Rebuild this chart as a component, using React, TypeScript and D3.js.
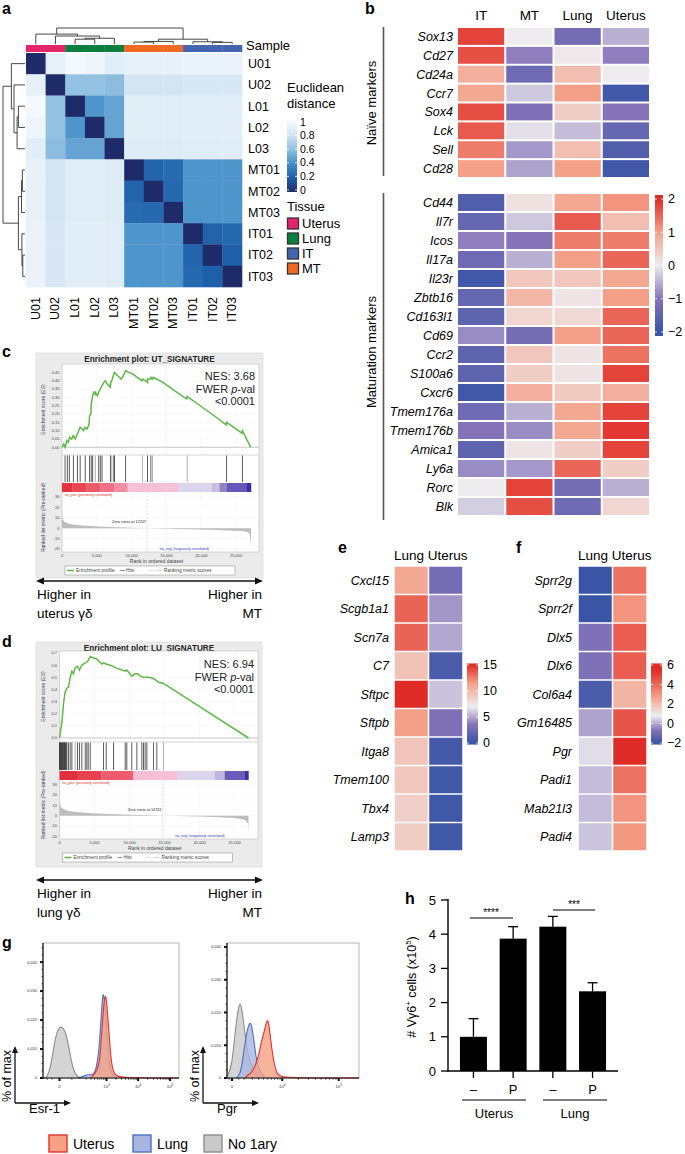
import React from 'react';
import * as d3 from 'd3';

const FONT = "'Liberation Sans', Arial, Helvetica, sans-serif";

// ---------------- Panel a data ----------------
const samples = ['U01', 'U02', 'L01', 'L02', 'L03', 'MT01', 'MT02', 'MT03', 'IT01', 'IT02', 'IT03'];
const sampleTissue = ['Uterus', 'Uterus', 'Lung', 'Lung', 'Lung', 'MT', 'MT', 'MT', 'IT', 'IT', 'IT'];
const tissueNames = ['Uterus', 'Lung', 'IT', 'MT'];
const tissueColors = ['#e5246b', '#0b7f40', '#4565b0', '#f16a24'];
const distance = [
  [0, 0.9, 0.98, 0.95, 0.88, 0.91, 0.91, 0.91, 0.93, 0.93, 0.93],
  [0.9, 0, 0.6, 0.6, 0.58, 0.8, 0.8, 0.8, 0.82, 0.82, 0.82],
  [0.98, 0.6, 0, 0.42, 0.48, 0.87, 0.87, 0.87, 0.88, 0.88, 0.88],
  [0.95, 0.6, 0.42, 0, 0.48, 0.87, 0.87, 0.87, 0.88, 0.88, 0.88],
  [0.88, 0.58, 0.48, 0.48, 0, 0.86, 0.86, 0.86, 0.87, 0.87, 0.87],
  [0.91, 0.8, 0.87, 0.87, 0.86, 0, 0.22, 0.25, 0.42, 0.42, 0.42],
  [0.91, 0.8, 0.87, 0.87, 0.86, 0.22, 0, 0.24, 0.42, 0.42, 0.42],
  [0.91, 0.8, 0.87, 0.87, 0.86, 0.25, 0.24, 0, 0.42, 0.42, 0.42],
  [0.93, 0.82, 0.88, 0.88, 0.87, 0.42, 0.42, 0.42, 0, 0.22, 0.24],
  [0.93, 0.82, 0.88, 0.88, 0.87, 0.42, 0.42, 0.42, 0.22, 0, 0.2],
  [0.93, 0.82, 0.88, 0.88, 0.87, 0.42, 0.42, 0.42, 0.24, 0.2, 0],
];
// hclust-style merges: [a, b, height]; negative = earlier merge -(k+1)
const dendroMerges = [
  [2, 3, 0.3],
  [-1, 4, 0.36],
  [1, -2, 0.5],
  [0, -3, 0.62],
  [5, 6, 0.12],
  [-5, 7, 0.16],
  [9, 10, 0.1],
  [8, -7, 0.14],
  [-6, -8, 0.3],
  [-4, -9, 1.0],
];
const distStops = [0, 0.2, 0.4, 0.6, 0.8, 1];
const distColors = ['#1f2a68', '#1d5fa8', '#4690c8', '#94c2e2', '#d3e5f2', '#f7fbff'];
const distTicks = [0, 0.2, 0.4, 0.6, 0.8, 1];

// ---------------- Panel b data ----------------
const bColumns = ['IT', 'MT', 'Lung', 'Uterus'];
const naiveGenes = ['Sox13', 'Cd27', 'Cd24a', 'Ccr7', 'Sox4', 'Lck', 'Sell', 'Cd28'];
const naiveValues = [
  [1.8, 0, -1.2, -0.5],
  [1.7, -0.9, 0.05, -0.9],
  [0.8, -1.3, 0.6, 0],
  [0.9, -0.3, 1.0, -1.9],
  [1.7, -1.1, 0.4, -1.0],
  [1.6, -0.1, -0.4, -1.4],
  [1.3, -0.7, 0.6, -1.7],
  [1.0, -0.6, 1.0, -1.9],
];
const maturationGenes = ['Cd44', 'Il7r', 'Icos', 'Il17a', 'Il23r', 'Zbtb16', 'Cd163l1', 'Cd69', 'Ccr2', 'S100a6', 'Cxcr6', 'Tmem176a', 'Tmem176b', 'Amica1', 'Ly6a', 'Rorc', 'Blk'];
const maturationValues = [
  [-1.7, 0.15, 0.9, 1.1],
  [-1.4, -0.3, 1.6, 0.6],
  [-0.9, -1.0, 1.3, 1.3],
  [-1.3, -0.5, 1.0, 1.5],
  [-1.9, 0.5, 0.5, 0.9],
  [-1.4, 0.7, 0.1, 1.0],
  [-1.5, 0.3, 0.25, 1.5],
  [-0.8, -1.2, 1.0, 1.5],
  [-1.5, 0.5, 0.1, 1.4],
  [-1.5, 0.4, 0.1, 1.8],
  [-1.9, 0.8, 0.45, 0.8],
  [-1.3, -0.5, 0.9, 1.8],
  [-1.0, -0.8, 0.9, 1.9],
  [-1.5, 0.1, 0.4, 1.8],
  [-0.8, -0.7, 1.5, 0.4],
  [0, 1.8, -1.2, -0.5],
  [-0.25, 1.7, -1.3, 0.3],
];
const divColors = ['#3955a6', '#8473b8', '#eeecef', '#f4a088', '#e02c27'];
const bStops = [-2, -1, 0, 1, 2];
const bTicks = [2, 1, 0, -1, -2];

// ---------------- Panels c, d data ----------------
const esC = [[0, 0], [250, 0.02], [450, 0.0], [700, 0.04], [900, 0.03], [1100, 0.06], [1400, 0.05], [1600, 0.07], [1900, 0.05], [2200, 0.08], [2400, 0.1], [2600, 0.12], [2900, 0.11], [3100, 0.1], [3300, 0.12], [3600, 0.11], [3900, 0.14], [3960, 0.19], [4150, 0.2], [4200, 0.26], [4400, 0.31], [4600, 0.33], [4780, 0.32], [4800, 0.33], [5100, 0.31], [5265, 0.33], [5500, 0.35], [5750, 0.37], [6000, 0.39], [6200, 0.40], [6500, 0.38], [6950, 0.36], [7000, 0.39], [7150, 0.40], [7440, 0.44], [7540, 0.45], [8000, 0.43], [8500, 0.41], [8700, 0.42], [9135, 0.46], [9600, 0.45], [10200, 0.44], [10800, 0.42], [11500, 0.40], [11550, 0.41], [12000, 0.40], [12280, 0.39], [12300, 0.41], [12760, 0.41], [12800, 0.42], [13000, 0.41], [13100, 0.42], [13600, 0.41], [14500, 0.39], [16000, 0.345], [17900, 0.29], [17980, 0.305], [19500, 0.26], [21500, 0.2], [23600, 0.135], [23640, 0.15], [25850, 0.085], [25910, 0.1], [27100, 0.0]];
const hitsC = [[435, 1], [770, 1], [1060, 1], [1640, 1], [2220, 1], [2610, 1], [3335, 1], [3960, 1], [4200, 1], [4400, 1], [4785, 0], [5265, 1], [5510, 1], [5750, 1], [6960, 1], [7150, 0], [7440, 1], [7540, 1], [9135, 1], [11550, 0], [12280, 1], [12760, 1], [13000, 0], [17980, 0], [23635, 1], [25910, 1]];
const barC = [[0, 1500, '#e5303f'], [1500, 3500, '#e94553'], [3500, 5510, '#ec5a68'], [5510, 7500, '#f07088'], [7500, 9425, '#f38da2'], [9425, 16675, '#f6c0d6'], [16675, 21460, '#dcd4ec'], [21460, 22620, '#c9bfe0'], [22620, 23635, '#8d84c8'], [23635, 26535, '#6658b8'], [26535, 27150, '#3a2fa8']];
const metricC = [[0, 14], [40, 11], [100, 9], [200, 7.5], [400, 6], [700, 5], [1000, 4.3], [1500, 3.6], [2500, 2.8], [4000, 2.1], [6000, 1.5], [8000, 1], [10000, 0.5], [12207, 0], [15000, -0.5], [18000, -1], [21000, -1.5], [24000, -2.2], [25500, -2.8], [26500, -3.5], [26900, -5], [27050, -10], [27150, -20]];

const esD = [[0, 0], [340, 0.13], [580, 0.29], [815, 0.38], [1050, 0.41], [1290, 0.42], [1530, 0.5], [1770, 0.55], [2000, 0.53], [2240, 0.58], [2570, 0.59], [2860, 0.56], [3190, 0.6], [3670, 0.62], [4000, 0.63], [4390, 0.67], [5340, 0.65], [6050, 0.61], [6290, 0.62], [6670, 0.61], [7720, 0.59], [7960, 0.58], [9390, 0.55], [9620, 0.56], [10330, 0.51], [10810, 0.53], [11150, 0.53], [11530, 0.51], [12000, 0.5], [12240, 0.5], [12720, 0.5], [13430, 0.49], [13900, 0.47], [14140, 0.46], [14860, 0.45], [27000, 0]];
const hitsD = [[0, 1], [60, 1], [130, 1], [200, 1], [270, 1], [340, 1], [410, 1], [480, 1], [560, 1], [640, 1], [720, 1], [800, 1], [880, 1], [960, 1], [1050, 1], [1290, 1], [1530, 1], [1770, 1], [2240, 0], [2570, 1], [2860, 1], [3190, 1], [3670, 1], [3900, 1], [4100, 1], [4390, 1], [6290, 1], [6670, 1], [7720, 1], [9390, 1], [9620, 1], [10330, 1], [11050, 1], [11760, 1], [12000, 1], [12240, 1], [12480, 1], [13430, 1], [13900, 1], [14860, 0]];
const barD = [[0, 2500, '#e3303e'], [2500, 6000, '#e84250'], [6000, 10500, '#ec5c6c'], [10500, 16800, '#f6bfd6'], [16800, 22200, '#dcd4ec'], [22200, 23600, '#c0b5dc'], [23600, 26500, '#6a5db8'], [26500, 27000, '#3a30a8']];
const metricD = [[0, 15], [50, 12], [150, 9], [400, 7], [1000, 5], [2000, 3.8], [4000, 2.5], [7000, 1.5], [10000, 0.8], [13000, 0.3], [14741, 0], [17000, -0.4], [20000, -0.9], [23000, -1.6], [25000, -2.4], [26500, -4], [26950, -8], [27000, -20]];

// ---------------- Panels e, f data ----------------
const efColumns = ['Lung', 'Uterus'];
const eGenes = ['Cxcl15', 'Scgb1a1', 'Scn7a', 'C7', 'Sftpc', 'Sftpb', 'Itga8', 'Tmem100', 'Tbx4', 'Lamp3'];
const eValues = [[11, 2.8], [13.3, 4.5], [13.3, 5], [9.5, 0.8], [15, 5.8], [11.5, 3.3], [9.3, 0.5], [9.2, 0.3], [8.7, 0.3], [8.8, 0.3]];
const eStops = [0, 3.5, 7, 11.5, 15];
const eTicks = [15, 10, 5, 0];
const fGenes = ['Sprr2g', 'Sprr2f', 'Dlx5', 'Dlx6', 'Col6a4', 'Gm16485', 'Pgr', 'Padi1', 'Mab21l3', 'Padi4'];
const fValues = [[-2, 3.8], [-2, 3.0], [-0.8, 4.3], [-0.8, 4.3], [-1.7, 2.2], [-0.1, 4.5], [0.6, 5.5], [0.2, 3.8], [0.2, 3.0], [0.3, 2.9]];
const fStops = [-2, -0.7, 0.8, 2.7, 5.5];
const fTicks = [6, 4, 2, 0, -2];

// ---------------- Panel g data ----------------
const esrNo1 = [[-80, 0], [-60, 0], [-51, 0.0005], [-34, 0.003], [-21, 0.009], [-10, 0.015], [-1, 0.0175], [7, 0.0177], [17, 0.0165], [30, 0.012], [46, 0.006], [65, 0.002], [97, 0.0003], [130, 0]];
const esrLung = [[100, 0], [186, 0.0008], [240, 0.0012], [330, 0.001], [434, 0.002], [546, 0.008], [620, 0.016], [722, 0.027], [776, 0.0293], [836, 0.028], [970, 0.02], [1120, 0.009], [1300, 0.003], [1640, 0.0005], [2030, 0]];
const esrUterus = [[300, 0], [546, 0.003], [620, 0.008], [722, 0.018], [836, 0.027], [904, 0.0283], [970, 0.028], [1120, 0.02], [1300, 0.01], [1480, 0.004], [1800, 0.001], [2710, 0], [190000, 0]];
const pgrNo1 = [[-360, 0], [-283, 0.001], [0, 0.004], [209, 0.014], [444, 0.021], [615, 0.0232], [800, 0.021], [1109, 0.013], [1454, 0.007], [1841, 0.004], [2273, 0.002], [2940, 0.0005], [3710, 0]];
const pgrLung = [[300, 0], [600, 0.001], [800, 0.004], [1109, 0.011], [1454, 0.016], [1841, 0.0177], [2273, 0.011], [2600, 0.006], [2940, 0.003], [3710, 0.001], [4380, 0]];
const pgrUterus = [[1109, 0], [1454, 0.001], [1841, 0.0015], [2273, 0.003], [2940, 0.006], [3500, 0.011], [4150, 0.014], [4865, 0.0186], [5390, 0.016], [5960, 0.01], [6900, 0.004], [7960, 0.001], [10010, 0], [220000, 0]];
const histTicksY = [0, 0.01, 0.02, 0.03, 0.04];
const legendG = ['Uterus', 'Lung', 'No 1ary'];

// ---------------- Panel h data ----------------
const hBars = ['U-', 'UP', 'L-', 'LP'];
const hLabels = ['–', 'P', '–', 'P'];
const hValues = [1.0, 3.87, 4.22, 2.33];
const hErrors = [0.53, 0.35, 0.3, 0.25];
const hTicks = [0, 1, 2, 3, 4, 5];

// =========================================================
function Letter({ x, y, t }: any) {
  return <text x={x} y={y} fontSize={16} fontWeight="bold" fontFamily={FONT}>{t}</text>;
}

function PanelA() {
  const xb = d3.scaleBand<string>().domain(samples).range([26, 242]);
  const yb = d3.scaleBand<string>().domain(samples).range([53, 287]);
  const col = d3.scaleLinear<string>().domain(distStops).range(distColors).interpolate(d3.interpolateRgb);
  const tcol = d3.scaleOrdinal<string, string>().domain(tissueNames).range(tissueColors);
  const idx = d3.scaleLinear().domain([0, samples.length]).range([26, 242]);
  const idxR = d3.scaleLinear().domain([0, samples.length]).range([53, 287]);
  const hTop = d3.scaleLinear().domain([0, 1]).range([44, 28]);
  const hLeft = d3.scaleLinear().domain([0, 1]).range([25, 3]);
  const nodePos: number[] = [];
  const nodeH: number[] = [];
  const colPaths: string[] = [];
  const rowPaths: string[] = [];
  dendroMerges.forEach(([a, b, h], k) => {
    const pa = a >= 0 ? a + 0.5 : nodePos[-a - 1];
    const pb = b >= 0 ? b + 0.5 : nodePos[-b - 1];
    const ha = a >= 0 ? 0 : nodeH[-a - 1];
    const hb = b >= 0 ? 0 : nodeH[-b - 1];
    nodePos[k] = (pa + pb) / 2;
    nodeH[k] = h;
    colPaths.push(`M${idx(pa)},${hTop(ha)}V${hTop(h)}H${idx(pb)}V${hTop(hb)}`);
    rowPaths.push(`M${hLeft(ha)},${idxR(pa)}H${hLeft(h)}V${idxR(pb)}H${hLeft(hb)}`);
  });
  const cb = d3.scaleLinear().domain([0, 1]).range([190, 122]);
  return (
    <g fontFamily={FONT}>
      <Letter x={2} y={14} t="a" />
      <defs>
        <linearGradient id="distGrad" x1="0" y1="1" x2="0" y2="0">
          {distStops.map((s, i) => <stop key={i} offset={s} stopColor={distColors[i]} />)}
        </linearGradient>
      </defs>
      {colPaths.map((p, i) => <path key={'c' + i} d={p} fill="none" stroke="#333" strokeWidth={0.9} />)}
      {rowPaths.map((p, i) => <path key={'r' + i} d={p} fill="none" stroke="#333" strokeWidth={0.9} />)}
      {samples.map((s, i) => (
        <rect key={'s' + i} x={xb(s)} y={45} width={xb.bandwidth() + 0.3} height={7} fill={tcol(sampleTissue[i])} />
      ))}
      <text x={246} y={47} fontSize={13} dominantBaseline="middle">Sample</text>
      {distance.map((row, i) => row.map((v, j) => (
        <rect key={i + '-' + j} x={xb(samples[j])} y={yb(samples[i])} width={xb.bandwidth() + 0.3} height={yb.bandwidth() + 0.3} fill={col(v)} />
      )))}
      {samples.map((s) => (
        <text key={'rl' + s} x={248} y={(yb(s) as number) + yb.bandwidth() / 2} dy="0.35em" fontSize={12.5}>{s}</text>
      ))}
      {samples.map((s) => (
        <text key={'cl' + s} transform={`translate(${(xb(s) as number) + xb.bandwidth() / 2 + 4},297) rotate(-90)`} textAnchor="end" fontSize={12.5}>{s}</text>
      ))}
      <text x={287} y={92} fontSize={13}>Euclidean</text>
      <text x={287} y={108} fontSize={13}>distance</text>
      <rect x={287} y={120} width={10} height={72} fill="url(#distGrad)" />
      {distTicks.map((t) => (
        <g key={'dt' + t}>
          <line x1={287} x2={289} y1={cb(t)} y2={cb(t)} stroke="#fff" strokeWidth={0.8} />
          <line x1={295} x2={297} y1={cb(t)} y2={cb(t)} stroke="#fff" strokeWidth={0.8} />
          <text x={300} y={cb(t)} dy="0.35em" fontSize={10.5}>{t}</text>
        </g>
      ))}
      <text x={287} y={211} fontSize={13}>Tissue</text>
      {tissueNames.map((t, i) => (
        <g key={'tl' + t}>
          <rect x={287.5} y={218 + i * 15} width={11} height={11} fill={tissueColors[i]} stroke="#333" strokeWidth={1.3} />
          <text x={302} y={223.5 + i * 15} dy="0.35em" fontSize={13}>{t}</text>
        </g>
      ))}
    </g>
  );
}

function PanelB() {
  const xb = d3.scaleBand<string>().domain(bColumns).range([457, 650]);
  const yN = d3.scaleBand<string>().domain(naiveGenes).range([27, 178]);
  const yM = d3.scaleBand<string>().domain(maturationGenes).range([193, 516]);
  const col = d3.scaleLinear<string>().domain(bStops).range(divColors).interpolate(d3.interpolateRgb).clamp(true);
  const cb = d3.scaleLinear().domain([-2, 2]).range([332, 199]);
  const grad = (genes: string[], vals: number[][], y: any) => genes.map((g, i) => (
    <g key={g}>
      {vals[i].map((v, j) => (
        <rect key={j} x={(xb(bColumns[j]) as number) + 1} y={(y(g) as number) + 1} width={xb.bandwidth() - 2} height={y.bandwidth() - 2} fill={col(v)} />
      ))}
      <text x={453} y={(y(g) as number) + y.bandwidth() / 2} dy="0.36em" textAnchor="end" fontSize={12.5} fontStyle="italic">{g}</text>
    </g>
  ));
  return (
    <g fontFamily={FONT}>
      <Letter x={365} y={14} t="b" />
      <defs>
        <linearGradient id="bGrad" x1="0" y1="1" x2="0" y2="0">
          {bStops.map((s, i) => <stop key={i} offset={(s + 2.12) / 4.24} stopColor={divColors[i]} />)}
        </linearGradient>
      </defs>
      {bColumns.map((c) => (
        <text key={c} x={(xb(c) as number) + xb.bandwidth() / 2} y={20} textAnchor="middle" fontSize={13.5}>{c}</text>
      ))}
      {grad(naiveGenes, naiveValues, yN)}
      {grad(maturationGenes, maturationValues, yM)}
      <line x1={383.5} x2={383.5} y1={27} y2={176} stroke="#555" strokeWidth={1.6} />
      <line x1={383.5} x2={383.5} y1={193} y2={520} stroke="#555" strokeWidth={1.6} />
      <text transform="translate(376,103) rotate(-90)" textAnchor="middle" fontSize={13}>Naïve markers</text>
      <text transform="translate(376,352) rotate(-90)" textAnchor="middle" fontSize={13}>Maturation markers</text>
      <rect x={655} y={cb(2.12)} width={8} height={cb(-2.12) - cb(2.12)} fill="url(#bGrad)" />
      {bTicks.map((t) => (
        <g key={t}>
          <line x1={655} x2={657} y1={cb(t)} y2={cb(t)} stroke="#fff" strokeWidth={0.8} />
          <line x1={661} x2={663} y1={cb(t)} y2={cb(t)} stroke="#fff" strokeWidth={0.8} />
          <text x={668} y={cb(t)} dy="0.35em" fontSize={12.5}>{t < 0 ? '−' + Math.abs(t) : t}</text>
        </g>
      ))}
    </g>
  );
}

function Gsea({ g, es, hits, bar, metric, zero, title, nes, esTicks, esFmt }: any) {
  const x = d3.scaleLinear().domain([0, 27000]).range([g.x0, g.x1]);
  const yE = d3.scaleLinear().domain(g.esDomain).range([g.esBottom, g.top]);
  const yM = d3.scaleLinear().domain(g.mDomain).range([g.mBottom, g.barBottom]);
  const line = d3.line<any>().x((d) => x(d[0])).y((d) => yE(d[1]));
  const area = d3.area<any>().x((d) => x(d[0])).y0(yM(0)).y1((d) => yM(d[1]));
  const xt = [0, 5000, 10000, 15000, 20000, 25000];
  const mt = [30, 20, 10, 0, -10, -20];
  const fmt = d3.format(',');
  const legY = g.mBottom + 14;
  return (
    <g fontFamily={FONT}>
      <rect x={g.fx} y={g.fy} width={g.fw} height={g.fh} fill="#ebebeb" stroke="#d8d8d8" strokeWidth={0.6} />
      <text x={(g.fx + g.fx + g.fw) / 2} y={g.fy + 8.5} textAnchor="middle" fontSize={8.2} fontWeight="bold" fill="#222">{title}</text>
      <rect x={g.px0} y={g.top} width={g.px1 - g.px0} height={g.mBottom - g.top} fill="#fff" stroke="#bdbdbd" strokeWidth={0.6} />
      {xt.map((t) => (
        <line key={'gx' + t} x1={x(t)} x2={x(t)} y1={g.top} y2={g.esBottom} stroke="#ddd" strokeWidth={0.4} strokeDasharray="1,1" />
      ))}
      {esTicks.map((t: number) => (
        <g key={'ey' + t}>
          <line x1={g.px0} x2={g.px1} y1={yE(t)} y2={yE(t)} stroke="#e2e2e2" strokeWidth={0.4} strokeDasharray="1,1" />
          <text x={g.px0 - 2.5} y={yE(t)} dy="0.35em" textAnchor="end" fontSize={4} fill="#444">{esFmt(t)}</text>
        </g>
      ))}
      <line x1={g.px0} x2={g.px1} y1={yE(0)} y2={yE(0)} stroke="#aaa" strokeWidth={0.6} />
      <line x1={g.px0} x2={g.px1} y1={g.esBottom} y2={g.esBottom} stroke="#bdbdbd" strokeWidth={0.6} />
      <path d={line(es) as string} fill="none" stroke="#5cb946" strokeWidth={1.5} />
      <text x={g.px1 - 4} y={g.nesY} textAnchor="end" fontSize={11} fill="#222">{nes}</text>
      <text x={g.px1 - 4} y={g.nesY + 12.5} textAnchor="end" fontSize={11} fill="#222">FWER <tspan fontStyle="italic">p</tspan>-val</text>
      <text x={g.px1 - 4} y={g.nesY + 25} textAnchor="end" fontSize={11} fill="#222">&lt;0.0001</text>
      <text transform={`translate(${g.fx + 9},${(g.top + g.esBottom) / 2}) rotate(-90)`} textAnchor="middle" fontSize={5} fill="#444">Enrichment score (ES)</text>
      {hits.map((h: number[], i: number) => (
        <line key={'h' + i} x1={x(h[0])} x2={x(h[0])} y1={g.esBottom + 0.5} y2={g.barTop - 1} stroke={h[1] ? '#333' : '#999'} strokeWidth={0.8} />
      ))}
      {bar.map((b: any[], i: number) => (
        <rect key={'b' + i} x={x(b[0])} y={g.barTop} width={x(b[1]) - x(b[0]) + 0.2} height={g.barBottom - g.barTop} fill={b[2]} />
      ))}
      {xt.map((t) => (
        <line key={'mx' + t} x1={x(t)} x2={x(t)} y1={g.barBottom} y2={g.mBottom} stroke="#ddd" strokeWidth={0.4} strokeDasharray="1,1" />
      ))}
      {mt.map((t) => (
        <g key={'my' + t}>
          <line x1={g.px0} x2={g.px1} y1={yM(t)} y2={yM(t)} stroke="#e2e2e2" strokeWidth={0.4} strokeDasharray="1,1" />
          <text x={g.px0 - 2.5} y={yM(t)} dy="0.35em" textAnchor="end" fontSize={4} fill="#444">{t}</text>
        </g>
      ))}
      <line x1={x(zero)} x2={x(zero)} y1={g.barBottom} y2={g.mBottom} stroke="#bbb" strokeWidth={0.5} strokeDasharray="2,1.5" />
      <path d={area(metric) as string} fill="#bdbdbd" />
      <text x={g.px0 + 2} y={g.barBottom + 4} fontSize={3.6} fill="#e03030">'na_pos' (positively correlated)</text>
      <text x={x(zero) - 18} y={yM(0) - 5} textAnchor="middle" fontSize={3.8} fill="#222">Zero cross at {zero}</text>
      <text x={x(zero) + 12} y={g.mBottom - 2.5} fontSize={3.6} fill="#3040c0">'na_neg' (negatively correlated)</text>
      <text transform={`translate(${g.fx + 9},${(g.barTop + g.mBottom) / 2}) rotate(-90)`} textAnchor="middle" fontSize={5} fill="#444">Ranked list metric (Pre-ranked)</text>
      {xt.map((t) => (
        <text key={'xl' + t} x={x(t)} y={g.mBottom + 5} textAnchor="middle" fontSize={4} fill="#444">{fmt(t)}</text>
      ))}
      <text x={(g.px0 + g.px1) / 2 - 4} y={g.mBottom + 11} textAnchor="middle" fontSize={5} fill="#444">Rank in ordered dataset</text>
      <rect x={g.px0 + 3} y={legY} width={170} height={9} fill="#fff" stroke="#888" strokeWidth={0.5} />
      <line x1={g.px0 + 5} x2={g.px0 + 12} y1={legY + 4.5} y2={legY + 4.5} stroke="#5cb946" strokeWidth={1.6} />
      <text x={g.px0 + 14} y={legY + 6.2} fontSize={4.8} fill="#444">Enrichment profile</text>
      <line x1={g.px0 + 58} x2={g.px0 + 63} y1={legY + 4.5} y2={legY + 4.5} stroke="#444" strokeWidth={0.6} />
      <text x={g.px0 + 64} y={legY + 6.2} fontSize={4.8} fill="#444">Hits</text>
      <line x1={g.px0 + 86} x2={g.px0 + 92} y1={legY + 4.5} y2={legY + 4.5} stroke="#ccc" strokeWidth={0.6} />
      <line x1={g.px0 + 94} x2={g.px0 + 100} y1={legY + 4.5} y2={legY + 4.5} stroke="#bbb" strokeWidth={0.6} />
      <text x={g.px0 + 102} y={legY + 6.2} fontSize={4.8} fill="#444">Ranking metric scores</text>
    </g>
  );
}

function Arrow({ y, left, right }: any) {
  return (
    <g fontFamily={FONT}>
      <line x1={42} x2={257} y1={y} y2={y} stroke="#111" strokeWidth={1.5} />
      <path d={`M36,${y}L44,${y - 3.5}L44,${y + 3.5}Z`} fill="#111" />
      <path d={`M263,${y}L255,${y - 3.5}L255,${y + 3.5}Z`} fill="#111" />
      <text x={37} y={y + 18} fontSize={13.5}>Higher in</text>
      <text x={37} y={y + 37} fontSize={13.5}>{left}</text>
      <text x={262} y={y + 18} fontSize={13.5} textAnchor="end">Higher in</text>
      <text x={262} y={y + 37} fontSize={13.5} textAnchor="end">{right}</text>
    </g>
  );
}

function MiniHeat({ genes, values, stops, ticks, x0, x1, labelX, cbX, id }: any) {
  const xb = d3.scaleBand<string>().domain(efColumns).range([x0, x1]);
  const yb = d3.scaleBand<string>().domain(genes).range([566, 851]);
  const col = d3.scaleLinear<string>().domain(stops).range(divColors).interpolate(d3.interpolateRgb).clamp(true);
  const lo = ticks[ticks.length - 1];
  const hi = ticks[0];
  const cb = d3.scaleLinear().domain([lo, hi]).range([743, 665]);
  const ext = (hi - lo) * 0.02;
  const top = hi + ext;
  const bot = lo - ext;
  return (
    <g fontFamily={FONT}>
      <defs>
        <linearGradient id={id} x1="0" y1="1" x2="0" y2="0">
          {stops.map((s: number, i: number) => <stop key={i} offset={Math.max(0, Math.min(1, (s - bot) / (top - bot)))} stopColor={divColors[i]} />)}
        </linearGradient>
      </defs>
      <text x={x0} y={560} fontSize={13.5}>{efColumns.join(' ')}</text>
      {genes.map((g: string, i: number) => (
        <g key={g}>
          {values[i].map((v: number, j: number) => (
            <rect key={j} x={(xb(efColumns[j]) as number) + 0.75} y={(yb(g) as number) + 0.75} width={xb.bandwidth() - 1.5} height={yb.bandwidth() - 1.5} fill={col(v)} />
          ))}
          <text x={labelX} y={(yb(g) as number) + yb.bandwidth() / 2} dy="0.36em" textAnchor="end" fontSize={12.5} fontStyle="italic">{g}</text>
        </g>
      ))}
      <rect x={cbX} y={cb(top)} width={11} height={cb(bot) - cb(top)} fill={`url(#${id})`} />
      {ticks.map((t: number) => (
        <g key={t}>
          <line x1={cbX} x2={cbX + 2} y1={cb(t)} y2={cb(t)} stroke="#fff" strokeWidth={0.8} />
          <line x1={cbX + 9} x2={cbX + 11} y1={cb(t)} y2={cb(t)} stroke="#fff" strokeWidth={0.8} />
          <text x={cbX + 16} y={cb(t)} dy="0.35em" fontSize={12.5}>{t < 0 ? '−' + Math.abs(t) : t}</text>
        </g>
      ))}
    </g>
  );
}

function Hist({ fx0, fx1, xScale, yScale, series, majors, minors, axisLabel, arrowX }: any) {
  const area = d3.area<any>().x((d) => xScale(d[0])).y0(yScale(0)).y1((d) => yScale(d[1])).curve(d3.curveBasis);
  const line = d3.line<any>().x((d) => xScale(d[0])).y((d) => yScale(d[1])).curve(d3.curveBasis);
  const fy0 = 943;
  const fy1 = 1078;
  const yMinor = d3.range(0, 0.0451, 0.0025).filter((v) => yScale(v) > fy0 + 1);
  return (
    <g fontFamily={FONT}>
      <rect x={fx0} y={fy0} width={fx1 - fx0} height={fy1 - fy0} fill="#fff" stroke="#888" strokeWidth={0.6} />
      {series.map((s: any, i: number) => (
        <g key={i}>
          <path d={area(s.data) as string} fill={s.fill} fillOpacity={0.8} />
          <path d={line(s.data) as string} fill="none" stroke={s.stroke} strokeWidth={1.1} />
        </g>
      ))}
      <line x1={fx0} x2={fx0} y1={fy0} y2={fy1} stroke="#111" strokeWidth={1.2} />
      <line x1={fx0} x2={fx1} y1={fy1} y2={fy1} stroke="#111" strokeWidth={1.2} />
      {yMinor.map((v: number, i: number) => (
        <line key={'ym' + i} x1={fx0 - 1.5} x2={fx0} y1={yScale(v)} y2={yScale(v)} stroke="#111" strokeWidth={0.7} />
      ))}
      {histTicksY.map((t) => (
        <g key={'yt' + t}>
          <rect x={fx0 - 3} y={yScale(t) - 1} width={3} height={2} fill="#111" />
          <text x={fx0 - 6} y={yScale(t)} dy="0.35em" textAnchor="end" fontSize={4} fill="#333">{t === 0 ? '0' : d3.format('.3f')(t)}</text>
        </g>
      ))}
      {minors.map((v: number, i: number) => (
        <line key={'xm' + i} x1={xScale(v)} x2={xScale(v)} y1={fy1} y2={fy1 + 1.8} stroke="#111" strokeWidth={0.7} />
      ))}
      {majors.map((m: any) => (
        <g key={'xt' + m.v}>
          <rect x={xScale(m.v) - 1} y={fy1} width={2} height={3} fill="#111" />
          <text x={xScale(m.v)} y={fy1 + 10} textAnchor="middle" fontSize={4.2} fill="#333">
            {m.e === null ? '0' : <>10<tspan fontSize={3.2} dy={-2}>{m.e}</tspan></>}
          </text>
        </g>
      ))}
      <line x1={arrowX} x2={arrowX} y1={1103} y2={1052} stroke="#111" strokeWidth={1.3} />
      <path d={`M${arrowX},${1046}L${arrowX - 3},${1053}L${arrowX + 3},${1053}Z`} fill="#111" />
      <line x1={arrowX} x2={arrowX + 50} y1={1103} y2={1103} stroke="#111" strokeWidth={1.3} />
      <path d={`M${arrowX + 56},1103L${arrowX + 49},1100L${arrowX + 49},1106Z`} fill="#111" />
      <text transform={`translate(${arrowX - 4},1076) rotate(-90)`} textAnchor="middle" fontSize={12.5}>% of max</text>
      <text x={arrowX + 14} y={1113} fontSize={13}>{axisLabel}</text>
    </g>
  );
}

function PanelG() {
  const xL = d3.scaleSymlog().constant(35).domain([-80, 190000]).range([43, 179]);
  const yL = d3.scaleLinear().domain([0, 0.0466]).range([1078, 943]);
  const xR = d3.scaleSymlog().constant(1700).domain([-360, 220000]).range([227, 359]);
  const yR = d3.scaleLinear().domain([0, 0.0412]).range([1078, 943]);
  const cols = {
    uterus: { fill: '#f4a184', stroke: '#e4302c' },
    lung: { fill: '#a6b6e0', stroke: '#4a6fc0' },
    no1: { fill: '#c9c9c9', stroke: '#8d8d8d' },
  };
  const decades = [1e3, 1e4, 1e5];
  const minorsL: number[] = [];
  [100, 1000, 10000].forEach((d) => [2, 3, 4, 5, 6, 7, 8, 9].forEach((k) => minorsL.push(k * d)));
  minorsL.push(-50, -25, 50);
  const minorsR: number[] = [];
  [1000, 10000].forEach((d) => [2, 3, 4, 5, 6, 7, 8, 9].forEach((k) => minorsR.push(k * d)));
  minorsR.push(-200, 500, 1000);
  const legCols = [cols.uterus, cols.lung, cols.no1];
  const legX = [49, 133, 204];
  return (
    <g fontFamily={FONT}>
      <Letter x={2} y={948} t="g" />
      <Hist fx0={43} fx1={179} xScale={xL} yScale={yL} axisLabel="Esr-1" arrowX={15}
        majors={[{ v: 0, e: null }, ...decades.map((v, i) => ({ v, e: i + 3 }))]} minors={minorsL}
        series={[{ data: esrNo1, ...cols.no1 }, { data: esrLung, ...cols.lung }, { data: esrUterus, ...cols.uterus }]} />
      <Hist fx0={227} fx1={359} xScale={xR} yScale={yR} axisLabel="Pgr" arrowX={203}
        majors={[{ v: 0, e: null }, { v: 1e4, e: 4 }, { v: 1e5, e: 5 }]} minors={minorsR}
        series={[{ data: pgrNo1, ...cols.no1 }, { data: pgrLung, ...cols.lung }, { data: pgrUterus, ...cols.uterus }]} />
      {legendG.map((l, i) => (
        <g key={l}>
          <rect x={legX[i]} y={1135} width={18} height={17} fill={legCols[i].fill} stroke={legCols[i].stroke} strokeWidth={1.4} />
          <text x={legX[i] + 24} y={1149} fontSize={14}>{l}</text>
        </g>
      ))}
    </g>
  );
}

function PanelH() {
  const x = d3.scaleBand<string>().domain(hBars).range([452, 614]).paddingInner(0.32).paddingOuter(0.2);
  const y = d3.scaleLinear().domain([0, 5]).range([1071, 900]);
  const capW = 10;
  return (
    <g fontFamily={FONT}>
      <Letter x={405} y={904} t="h" />
      {hBars.map((b, i) => {
        const cx = (x(b) as number) + x.bandwidth() / 2;
        return (
          <g key={b}>
            <line x1={cx} x2={cx} y1={y(hValues[i])} y2={y(hValues[i] + hErrors[i])} stroke="#000" strokeWidth={1.3} />
            <line x1={cx - capW / 2} x2={cx + capW / 2} y1={y(hValues[i] + hErrors[i])} y2={y(hValues[i] + hErrors[i])} stroke="#000" strokeWidth={1.3} />
            <rect x={x(b)} y={y(hValues[i])} width={x.bandwidth()} height={y(0) - y(hValues[i])} fill="#000" />
            <line x1={cx} x2={cx} y1={1071} y2={1078} stroke="#000" strokeWidth={1.3} />
            <text x={cx} y={1094} textAnchor="middle" fontSize={13}>{hLabels[i]}</text>
          </g>
        );
      })}
      <line x1={448} x2={448} y1={899} y2={1071.6} stroke="#000" strokeWidth={1.4} />
      <line x1={447.3} x2={618} y1={1071} y2={1071} stroke="#000" strokeWidth={1.4} />
      {hTicks.map((t) => (
        <g key={t}>
          <line x1={441} x2={448} y1={y(t)} y2={y(t)} stroke="#000" strokeWidth={1.3} />
          <text x={436} y={y(t)} dy="0.36em" textAnchor="end" fontSize={13}>{t}</text>
        </g>
      ))}
      <text transform="translate(416,987) rotate(-90)" textAnchor="middle" fontSize={12.5}># Vγ6<tspan fontSize={8} dy={-5}>+</tspan><tspan dy={5}> cells (x10</tspan><tspan fontSize={8} dy={-5}>5</tspan><tspan dy={5}>)</tspan></text>
      <line x1={470} x2={513} y1={918} y2={918} stroke="#000" strokeWidth={1.2} />
      <text x={491} y={916} textAnchor="middle" fontSize={10}>****</text>
      <line x1={553} x2={595} y1={910} y2={910} stroke="#000" strokeWidth={1.2} />
      <text x={574} y={908} textAnchor="middle" fontSize={10}>***</text>
      <line x1={462} x2={526} y1={1100} y2={1100} stroke="#000" strokeWidth={1.2} />
      <line x1={543} x2={607} y1={1100} y2={1100} stroke="#000" strokeWidth={1.2} />
      <text x={494} y={1118} textAnchor="middle" fontSize={13}>Uterus</text>
      <text x={575} y={1118} textAnchor="middle" fontSize={13}>Lung</text>
    </g>
  );
}

export default function App() {
  const gC = { fx: 36, fy: 353, fw: 227, fh: 225, px0: 62, px1: 259, x0: 62, x1: 250, top: 364, esBottom: 455, barTop: 483, barBottom: 492, mBottom: 552, esDomain: [-0.0463, 0.5003], mDomain: [-22.9, 34.8], nesY: 380 };
  const gD = { fx: 36, fy: 642, fw: 226, fh: 225, px0: 59.5, px1: 258, x0: 59.5, x1: 248.5, top: 651, esBottom: 742, barTop: 771, barBottom: 780, mBottom: 839, esDomain: [-0.033, 0.717], mDomain: [-22.5, 34.3], nesY: 668 };
  return (
    <svg width={685} height={1154} style={{ position: 'absolute', left: 0, top: 0, background: '#fff' }} fontFamily={FONT}>
      <PanelA />
      <PanelB />
      <Letter x={2} y={357} t="c" />
      <Gsea g={gC} es={esC} hits={hitsC} bar={barC} metric={metricC} zero={12207} title="Enrichment plot: UT_SIGNATURE" nes="NES: 3.68"
        esTicks={[0, 0.05, 0.1, 0.15, 0.2, 0.25, 0.3, 0.35, 0.4, 0.45]} esFmt={d3.format('.2f')} />
      <Arrow y={581} left="uterus γδ" right="MT" />
      <Letter x={2} y={647} t="d" />
      <Gsea g={gD} es={esD} hits={hitsD} bar={barD} metric={metricD} zero={14741} title="Enrichment plot: LU_SIGNATURE" nes="NES: 6.94"
        esTicks={[0, 0.1, 0.2, 0.3, 0.4, 0.5, 0.6, 0.7]} esFmt={d3.format('.1f')} />
      <Arrow y={880} left="lung γδ" right="MT" />
      <Letter x={338} y={553} t="e" />
      <MiniHeat genes={eGenes} values={eValues} stops={eStops} ticks={eTicks} x0={394} x1={463} labelX={389} cbX={467} id="eGrad" />
      <Letter x={516} y={553} t="f" />
      <MiniHeat genes={fGenes} values={fValues} stops={fStops} ticks={fTicks} x0={578} x1={647} labelX={572} cbX={651} id="fGrad" />
      <PanelG />
      <PanelH />
    </svg>
  );
}
